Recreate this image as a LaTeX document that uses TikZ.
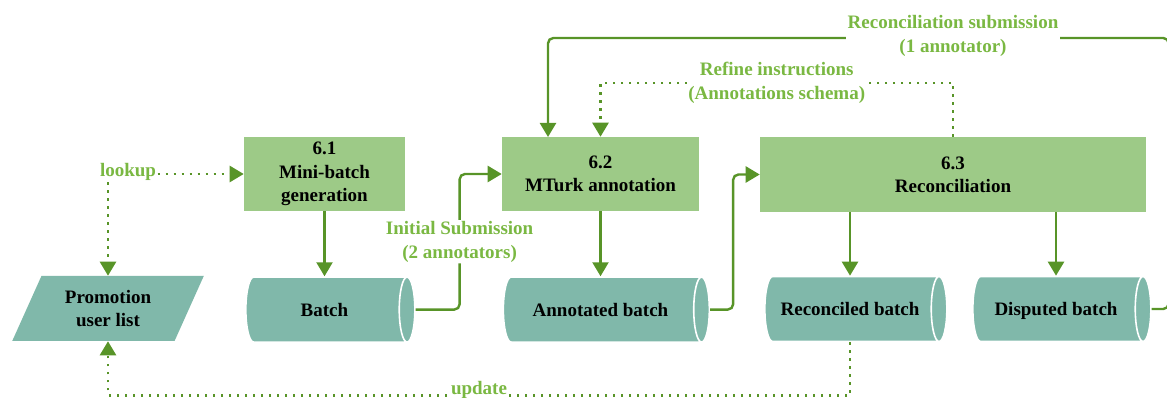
\documentclass[tikz,border=0pt]{standalone}
\usepackage{fontspec}
\setmainfont{Liberation Serif}
\usetikzlibrary{positioning,shapes.geometric,arrows.meta}
\definecolor{boxgreen}{RGB}{157,202,135}
\definecolor{dbteal}{RGB}{128,184,170}
\definecolor{linegreen}{RGB}{88,148,40}
\definecolor{lblgreen}{RGB}{122,184,66}
\begin{document}
\begin{tikzpicture}[x=0.75pt,y=-0.75pt,
    >={Triangle[length=10.5pt,width=12pt]},
    font=\fontsize{14.25}{17.5}\selectfont\bfseries,
    box/.style={%
      rectangle, draw=none, fill=boxgreen,
      minimum height=55.5pt, inner sep=2pt, align=center
    },
    db/.style={%
      cylinder, draw=white, line width=1.2pt, fill=dbteal, shape aspect=0.65,
      minimum width=48.75pt, inner sep=2pt, text height=12pt, text depth=2pt
    },
    io/.style={%
      trapezium, trapezium left angle=64.5, trapezium right angle=115.5,
      trapezium stretches=true, draw=none, fill=dbteal,
      minimum width=144pt, minimum height=48.75pt, inner sep=2pt, align=center
    },
    lbl/.style={text=lblgreen, fill=white, inner sep=1pt, align=center},
    flow/.style={->, draw=linegreen, line width=1.8pt, rounded corners=4pt},
    dotflow/.style={->, draw=linegreen, line width=1.8pt, dash pattern=on 1.8pt off 4.2pt}
]
    \useasboundingbox (0,0) rectangle (1167,398);

    % steps
    \node[box, minimum width=120.75pt] (box61) at (324.5,174) {6.1\\Mini-batch\\generation};
    \node[box, minimum width=147.75pt] (box62) at (600.5,174) {6.2\\MTurk annotation};
    \node[box, minimum width=289.5pt, minimum height=56pt] (box63) at (953,174.5) {6.3\\Reconciliation};

    % data
    \node[io] (promo) at (108,308.5) {Promotion\\user list};
    \node[db, minimum height=126.75pt] (batch) [below=48.75pt of box61] {Batch};
    \node[db, minimum height=154.5pt] (annot) [below=48.75pt of box62] {Annotated batch};
    \node[db, minimum height=136.5pt] (recon) at (850,309) {Reconciled batch};
    \node[db, minimum height=133.5pt] (disp) at (1056,309) {Disputed batch};

    \node[lbl] (lookup) at (128,172) {lookup};

    \draw[dotflow] (lookup.east |- box61.west) -- (box61.west);
    \draw[dotflow] (lookup.south -| promo.north) -- (promo.north);
    \draw[flow] (box61.south) -- (batch.north);
    \draw[flow] (batch.east) -- ++(44,0) |- node[lbl, pos=0.25] (initsub) {Initial Submission\\(2 annotators)} (box62.west);
    \draw[flow] (box62.south) -- (annot.north);
    \draw[flow] (annot.east) -- ++(23,0) |- (box63.west);
    \draw[flow] (recon.north |- box63.south) -- (recon.north);
    \draw[flow] (disp.north |- box63.south) -- (disp.north);
    \draw[flow] (disp.east) -- ++(17,0) |- (548,38) -- (548,137);
    \node[lbl] (recsub) at (953,36) {Reconciliation submission\\(1 annotator)};
    \draw[dotflow] (box63.north) -- ++(0,-54) -| node[lbl, pos=0.25] (refine) {Refine instructions\\(Annotations schema)} (box62.north);
    \draw[dotflow] (recon.south) -- ++(0,53) -| node[lbl, pos=0.25, yshift=4pt] (update) {update} (promo.south);

  \end{tikzpicture}
\end{document}
